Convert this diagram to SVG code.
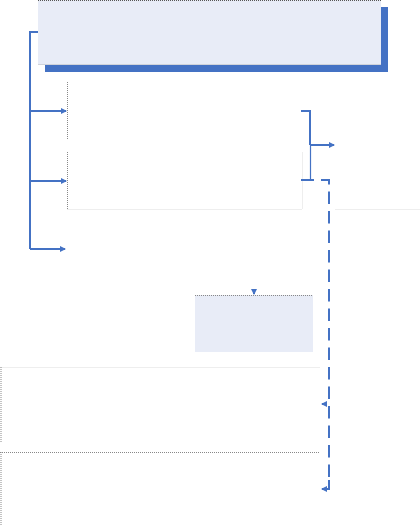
<svg xmlns="http://www.w3.org/2000/svg" width="420" height="526" viewBox="0 0 420 526">
<style>
.conn{fill:none;stroke:#4472C4;stroke-width:2}
.thin{fill:none;stroke:#4472C4;stroke-width:1.2}
.dash{fill:none;stroke:#4472C4;stroke-width:2;stroke-dasharray:12.5 7}
.box{fill:#E8ECF7}
.dot{fill:none;stroke:#888;stroke-width:1;stroke-dasharray:1 1}
.faint{fill:none;stroke:#EEE;stroke-width:1}
</style>
<defs>
<marker id="ah" viewBox="0 0 6 6" refX="5" refY="3" markerWidth="3" markerHeight="3" orient="auto" markerUnits="strokeWidth">
<path d="M0,0 L6,3 L0,6 z" fill="#4472C4"/>
</marker>
</defs>
<g id="top">
<rect x="45" y="7" width="343" height="65" fill="#4472C4"/>
<rect class="box" x="38" y="0" width="343" height="64"/>
<line x1="38" y1="0.5" x2="381" y2="0.5" stroke="#555" stroke-dasharray="1 1"/>
<line x1="38" y1="64.5" x2="381" y2="64.5" stroke="#D0D3DA"/>
</g>
<g id="group1">
<line class="dot" x1="67.5" y1="82" x2="67.5" y2="140"/>
<line class="dot" x1="67.5" y1="152" x2="67.5" y2="209"/>
<line class="faint" x1="67" y1="209.5" x2="302" y2="209.5"/>
<line class="faint" x1="335" y1="209.5" x2="420" y2="209.5"/>
<line class="faint" x1="302.5" y1="152" x2="302.5" y2="209"/>
</g>
<g id="mid">
<rect class="box" x="195" y="295" width="118" height="57"/>
<line x1="195" y1="295.5" x2="313" y2="295.5" stroke="#888" stroke-dasharray="1 1"/>
</g>
<g id="bottom1">
<line class="faint" x1="0" y1="367.5" x2="320" y2="367.5"/>
<line class="dot" x1="1" y1="367" x2="1" y2="442"/>
</g>
<g id="bottom2">
<line class="dot" x1="0" y1="452.5" x2="320" y2="452.5"/>
<line class="dot" x1="1" y1="452" x2="1" y2="526"/>
</g>
<g id="connectors">
<path class="conn" d="M38,32 H30 V249"/>
<path class="conn" d="M30,111 H66" marker-end="url(#ah)"/>
<path class="conn" d="M30,181 H66" marker-end="url(#ah)"/>
<path class="conn" d="M30,249 H65" marker-end="url(#ah)"/>
<path class="conn" d="M301,111 H310 V145"/>
<path class="thin" d="M310.5,145 V180"/>
<path class="conn" d="M310,145 H334" marker-end="url(#ah)"/>
<path class="conn" d="M301,180 H314"/>
<path class="dash" d="M321,180 H329 V480"/>
<path class="conn" d="M329,480 V489 H322" marker-end="url(#ah)"/>
<path class="conn" d="M324,404 H322" marker-end="url(#ah)"/>
<path class="conn" d="M254,289 V294" marker-end="url(#ah)"/>
</g>
</svg>
